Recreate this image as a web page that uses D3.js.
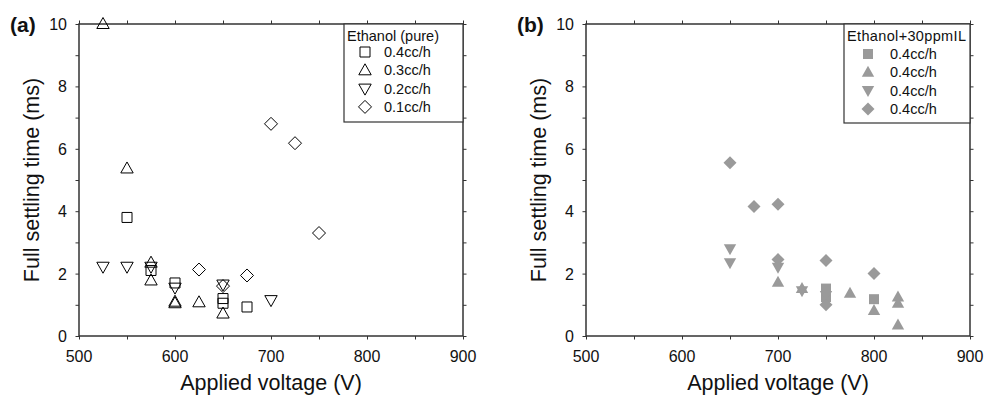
<!DOCTYPE html>
<html><head><meta charset="utf-8">
<script src="https://cdn.jsdelivr.net/npm/d3@7"></script>
<style>body{margin:0;background:#fff}svg{display:block}text{font-family:"Liberation Sans",Arial,sans-serif;fill:#111}</style>
</head><body><svg id="c" width="984" height="396"></svg>
<script>
// Panel (a): Ethanol (pure)
const sqA_x=[550,575,600,650,650,675], sqA_y=[3.8,2.1,1.7,1.2,1.05,0.93];
const upA_x=[525,550,575,575,600,600,625,650], upA_y=[10,5.37,2.35,1.78,1.1,1.05,1.08,0.72];
const dnA_x=[525,550,575,600,650,700], dnA_y=[2.22,2.22,2.22,1.55,1.65,1.15];
const diA_x=[625,650,675,700,725,750], diA_y=[2.13,1.6,1.94,6.8,6.18,3.3];
// Panel (b): Ethanol+30ppmIL
const sqB_x=[750,750,800], sqB_y=[1.52,1.25,1.18];
const upB_x=[700,725,775,800,825,825,825], upB_y=[1.72,1.52,1.37,0.82,1.25,1.05,0.35];
const dnB_x=[650,650,700,725,750], dnB_y=[2.8,2.35,2.2,1.45,1.3];
const diB_x=[650,675,700,700,750,750,800], diB_y=[5.55,4.15,4.22,2.45,2.42,1.0,2.0];
const xTicks=[500,600,700,800,900], yTicks=[0,2,4,6,8,10];
const legendA=["0.4cc/h","0.3cc/h","0.2cc/h","0.1cc/h"];
const legendB=["0.4cc/h","0.4cc/h","0.4cc/h","0.4cc/h"];

const svg=d3.select("#c");
const shapes={
  sq:"M-5,-5H5V5H-5Z",
  up:"M0,-6.5L6.2,4.5H-6.2Z",
  dn:"M0,6.5L6.2,-4.5H-6.2Z",
  di:"M0,-6.5L6.5,0L0,6.5L-6.5,0Z"
};
const axCol="#333";
function panel(x0,x1,label,series,filled,legTitle,legItems,legBox){
  const x=d3.scaleLinear().domain([500,900]).range([x0,x1]);
  const y=d3.scaleLinear().domain([0,10]).range([336,24]);
  const g=svg.append("g");
  const mk=(ax)=>ax.tickSizeInner(3.5).tickSizeOuter(0).tickFormat("");
  const xt=d3.range(500,901,50), yt=d3.range(0,11,1);
  g.append("g").attr("transform","translate(0,336)").call(mk(d3.axisBottom(x).tickValues(xt)));
  g.append("g").attr("transform","translate(0,24)").call(mk(d3.axisTop(x).tickValues(xt)));
  g.append("g").attr("transform",`translate(${x0},0)`).call(mk(d3.axisLeft(y).tickValues(yt)));
  g.append("g").attr("transform",`translate(${x1},0)`).call(mk(d3.axisRight(y).tickValues(yt)));
  g.selectAll(".domain").remove();
  g.selectAll(".tick line").attr("stroke",axCol).attr("stroke-width",1);
  g.append("rect").attr("x",x0).attr("y",24).attr("width",x1-x0).attr("height",312)
    .attr("fill","none").attr("stroke",axCol).attr("stroke-width",1.5);
  g.selectAll(".xl").data(xTicks).join("text").attr("x",d=>x(d)).attr("y",362)
    .attr("text-anchor","middle").attr("font-size",16).text(d=>d);
  g.selectAll(".yl").data(yTicks).join("text").attr("x",x0-12).attr("y",d=>y(d)+6)
    .attr("text-anchor","end").attr("font-size",16).text(d=>d);
  g.append("text").attr("x",(x0+x1)/2).attr("y",390).attr("text-anchor","middle")
    .attr("font-size",21.5).text("Applied voltage (V)");
  g.append("text").attr("transform",`translate(${x0-40},180) rotate(-90)`).attr("text-anchor","middle")
    .attr("font-size",21.5).text("Full settling time (ms)");
  g.append("text").attr("x",x0-69).attr("y",32).attr("font-size",21).attr("font-weight","bold").text(label);
  const col=filled?"#9a9a9a":"#000";
  series.forEach(s=>{
    g.selectAll(null).data(d3.zip(s.xs,s.ys)).join("path")
      .attr("transform",d=>`translate(${x(d[0])},${y(d[1])})`).attr("d",shapes[s.shape])
      .attr("fill",filled?col:"none").attr("stroke",filled?"none":col).attr("stroke-width",1);
  });
  const lg=g.append("g");
  lg.append("rect").attr("x",legBox[0]).attr("y",24).attr("width",x1-legBox[0]).attr("height",legBox[1]-24)
    .attr("fill","#fff").attr("stroke",axCol).attr("stroke-width",1.2);
  lg.append("text").attr("x",legBox[0]+3).attr("y",41).attr("font-size",14.5).attr("textLength",legBox[5]).text(legTitle);
  legItems.forEach((t,i)=>{
    const cy=legBox[4]+i*18.3;
    lg.append("path").attr("transform",`translate(${legBox[2]},${cy})`).attr("d",shapes[series[i].shape])
      .attr("fill",filled?col:"none").attr("stroke",filled?"none":col).attr("stroke-width",1);
    lg.append("text").attr("x",legBox[3]).attr("y",cy+5).attr("font-size",14.5).text(t);
  });
}
panel(79,463,"(a)",[
  {shape:"sq",xs:sqA_x,ys:sqA_y},{shape:"up",xs:upA_x,ys:upA_y},
  {shape:"dn",xs:dnA_x,ys:dnA_y},{shape:"di",xs:diA_x,ys:diA_y}],false,"Ethanol (pure)",legendA,[344,122,365,384,52,92]);
panel(586,970,"(b)",[
  {shape:"sq",xs:sqB_x,ys:sqB_y},{shape:"up",xs:upB_x,ys:upB_y},
  {shape:"dn",xs:dnB_x,ys:dnB_y},{shape:"di",xs:diB_x,ys:diB_y}],true,"Ethanol+30ppmIL",legendB,[844,123,868,890,54,119]);
</script></body></html>
